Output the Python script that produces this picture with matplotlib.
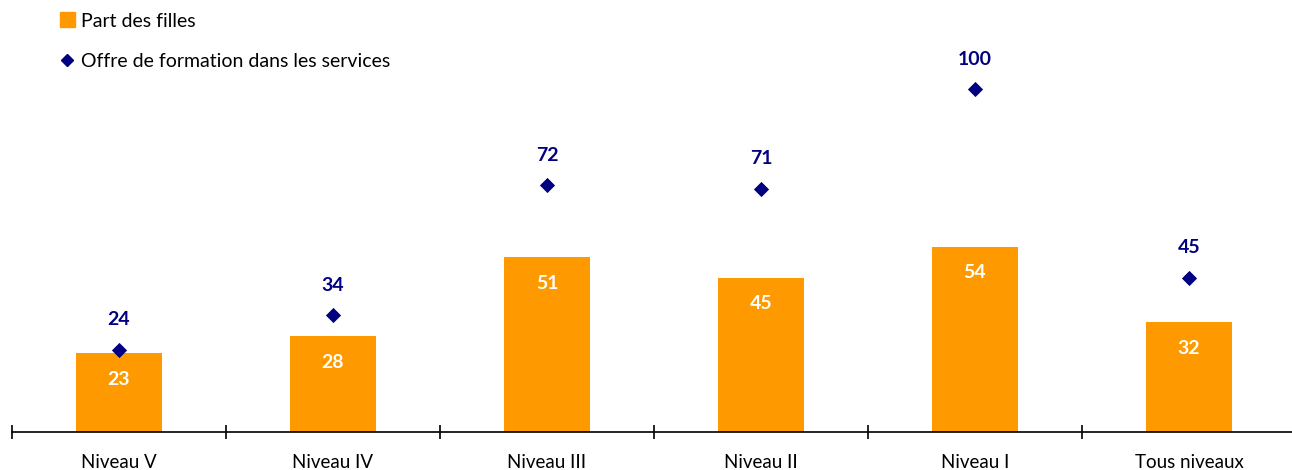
import matplotlib
matplotlib.use("Agg")
import matplotlib.pyplot as plt
import numpy as np
from matplotlib.lines import Line2D
from matplotlib.patches import Patch

categories = ["Niveau V", "Niveau IV", "Niveau III", "Niveau II", "Niveau I", "Tous niveaux"]
part_filles = [23, 28, 51, 45, 54, 32]
offre_services = [24, 34, 72, 71, 100, 45]

ORANGE = "#FF9900"
NAVY = "#000080"
FONT = "Lato"

plt.rcParams['font.family'] = [FONT, 'DejaVu Sans']

fig = plt.figure(figsize=(12.92, 4.70), dpi=100)
ax = fig.add_axes([12/1292, 38/470, 1284/1292, 432/470])

x = np.arange(len(categories))
ax.bar(x, part_filles, width=0.4, color=ORANGE, zorder=2)
ax.scatter(x, offre_services, marker="D", s=60, color=NAVY, zorder=3, linewidths=0)

for xi, v in zip(x, part_filles):
    ax.annotate(f"{v}", (xi, v), xytext=(0, -26), textcoords="offset pixels",
                ha="center", va="center", color="white", fontsize=14, fontweight="bold")
for xi, v in zip(x, offre_services):
    ax.annotate(f"{v}", (xi, v), xytext=(0, 30), textcoords="offset pixels",
                ha="center", va="center", color=NAVY, fontsize=14, fontweight="bold")

ax.set_xlim(-0.5, 5.5)
ax.set_ylim(0, 126)
for s in ["top", "right", "left"]:
    ax.spines[s].set_visible(False)
ax.spines["bottom"].set_linewidth(1.2)
ax.set_yticks([])
ax.set_xticks(np.arange(-0.5, 6.0, 1.0))
ax.set_xticklabels([])
ax.tick_params(axis="x", which="major", direction="inout", length=10, width=1.2)
ax.set_xticks(x, minor=True)
ax.set_xticklabels(categories, minor=True, fontsize=13.5)
ax.tick_params(axis="x", which="minor", length=0, pad=16)

handles = [Patch(color=ORANGE, label="Part des filles"),
           Line2D([], [], marker="D", color=NAVY, linestyle="none", markersize=6.5, label="Offre de formation dans les services")]
fig.legend(handles=handles, loc="upper left", bbox_to_anchor=(42/1292, 1 + 5/470), frameon=False,
           fontsize=14, labelspacing=1.2, handlelength=0.8, handleheight=0.8, handletextpad=0.3)

fig.savefig("out.png", dpi=100)
